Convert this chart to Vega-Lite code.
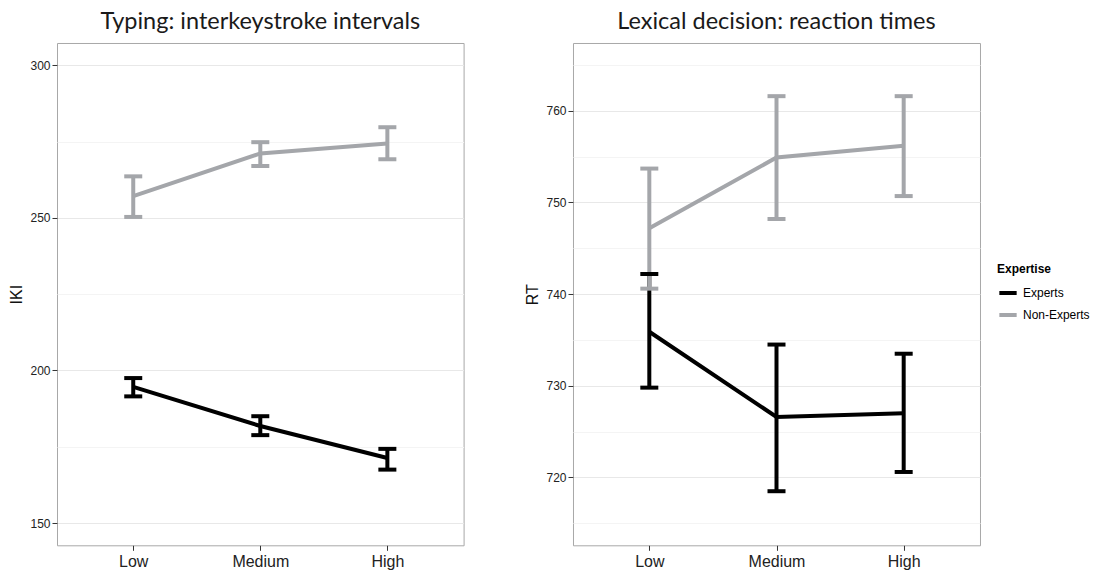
{
  "$schema": "https://vega.github.io/schema/vega-lite/v6.json",
  "padding": {"left": 8, "top": 10, "right": 0, "bottom": 0},
  "background": "white",
  "datasets": {
    "typing": [
      {"level": "Low", "group": "Experts", "mean": 194.6, "lo": 191.5, "hi": 197.5},
      {"level": "Medium", "group": "Experts", "mean": 181.8, "lo": 178.8, "hi": 185.0},
      {"level": "High", "group": "Experts", "mean": 171.3, "lo": 167.5, "hi": 174.3},
      {"level": "Low", "group": "Non-Experts", "mean": 257.1, "lo": 250.3, "hi": 263.6},
      {"level": "Medium", "group": "Non-Experts", "mean": 271.1, "lo": 267.0, "hi": 274.8},
      {"level": "High", "group": "Non-Experts", "mean": 274.4, "lo": 269.2, "hi": 279.7}
    ],
    "lexical": [
      {"level": "Low", "group": "Experts", "mean": 735.9, "lo": 729.8, "hi": 742.2},
      {"level": "Medium", "group": "Experts", "mean": 726.6, "lo": 718.5, "hi": 734.5},
      {"level": "High", "group": "Experts", "mean": 727.0, "lo": 720.6, "hi": 733.5},
      {"level": "Low", "group": "Non-Experts", "mean": 747.2, "lo": 740.6, "hi": 753.7},
      {"level": "Medium", "group": "Non-Experts", "mean": 754.9, "lo": 748.2, "hi": 761.6},
      {"level": "High", "group": "Non-Experts", "mean": 756.2, "lo": 750.7, "hi": 761.6}
    ]
  },
  "bounds": "flush",
  "spacing": 109,
  "hconcat": [
    {
      "data": {"name": "typing"},
      "width": 406.6,
      "height": 502.3,
      "title": {"text": "Typing: interkeystroke intervals"},
      "encoding": {
        "x": {"field": "level", "type": "nominal", "sort": ["Low", "Medium", "High"], "scale": {"type": "point", "padding": 0.6}, "title": null},
        "color": {"field": "group", "type": "nominal", "title": "Expertise", "scale": {"domain": ["Experts", "Non-Experts"], "range": ["#000000", "#a4a6aa"]}}
      },
      "layer": [
        {
          "mark": {"type": "rule", "strokeWidth": 4},
          "encoding": {
            "y": {"field": "lo", "type": "quantitative", "scale": {"domain": [142.7, 307.3], "nice": false, "zero": false}, "title": "IKI",
              "axis": {"values": [150, 175, 200, 225, 250, 275, 300], "labelExpr": "datum.value % 50 === 0 ? datum.label : ''",
                "tickColor": {"condition": {"test": "datum.value % 50 === 0", "value": "#333333"}, "value": "transparent"},
                "gridColor": {"condition": {"test": "datum.value % 50 === 0", "value": "#e8e8e8"}, "value": "#f4f4f4"}}},
            "y2": {"field": "hi"}
          }
        },
        {
          "mark": {"type": "tick", "size": 18, "thickness": 4, "opacity": 1},
          "encoding": {"y": {"field": "lo", "type": "quantitative"}}
        },
        {
          "mark": {"type": "tick", "size": 18, "thickness": 4, "opacity": 1},
          "encoding": {"y": {"field": "hi", "type": "quantitative"}}
        },
        {
          "mark": {"type": "line", "strokeWidth": 4},
          "encoding": {"y": {"field": "mean", "type": "quantitative"}}
        }
      ]
    },
    {
      "data": {"name": "lexical"},
      "width": 407,
      "height": 502.3,
      "title": {"text": "Lexical decision: reaction times"},
      "encoding": {
        "x": {"field": "level", "type": "nominal", "sort": ["Low", "Medium", "High"], "scale": {"type": "point", "padding": 0.6}, "title": null},
        "color": {"field": "group", "type": "nominal", "title": "Expertise", "scale": {"domain": ["Experts", "Non-Experts"], "range": ["#000000", "#a4a6aa"]}}
      },
      "layer": [
        {
          "mark": {"type": "rule", "strokeWidth": 4},
          "encoding": {
            "y": {"field": "lo", "type": "quantitative", "scale": {"domain": [712.6, 767.4], "nice": false, "zero": false}, "title": "RT",
              "axis": {"values": [715, 720, 725, 730, 735, 740, 745, 750, 755, 760, 765], "labelExpr": "datum.value % 10 === 0 ? datum.label : ''",
                "tickColor": {"condition": {"test": "datum.value % 10 === 0", "value": "#333333"}, "value": "transparent"},
                "gridColor": {"condition": {"test": "datum.value % 10 === 0", "value": "#e8e8e8"}, "value": "#f4f4f4"}}},
            "y2": {"field": "hi"}
          }
        },
        {
          "mark": {"type": "tick", "size": 18, "thickness": 4, "opacity": 1},
          "encoding": {"y": {"field": "lo", "type": "quantitative"}}
        },
        {
          "mark": {"type": "tick", "size": 18, "thickness": 4, "opacity": 1},
          "encoding": {"y": {"field": "hi", "type": "quantitative"}}
        },
        {
          "mark": {"type": "line", "strokeWidth": 4},
          "encoding": {"y": {"field": "mean", "type": "quantitative"}}
        }
      ]
    }
  ],
  "config": {
    "font": "Liberation Sans",
    "view": {"stroke": "#a8a8a8", "strokeWidth": 1},
    "title": {"font": "Lato", "fontSize": 23.5, "fontWeight": "normal", "color": "#1a1a1a", "anchor": "middle", "offset": 9},
    "axis": {"domain": false, "labelColor": "#222222", "tickSize": 5, "tickColor": "#333333", "labelPadding": 2, "titleFont": "Liberation Sans", "titleFontWeight": "normal", "titleColor": "#111111"},
    "axisY": {"labelFontSize": 12, "titleFontSize": 16, "titlePadding": 5, "grid": true},
    "axisX": {"labelFontSize": 16, "grid": false, "labelAngle": 0, "labelPadding": 3},
    "legend": {
      "orient": "none", "legendX": 940, "legendY": 221,
      "symbolType": "stroke", "symbolStrokeWidth": 4, "symbolSize": 300,
      "titleFontSize": 12, "titleFontWeight": "bold", "titleColor": "#000000", "titleFont": "Liberation Sans",
      "labelFontSize": 12, "labelColor": "#000000", "labelFont": "Liberation Sans",
      "rowPadding": 3, "titlePadding": 6, "labelOffset": 4
    }
  }
}
